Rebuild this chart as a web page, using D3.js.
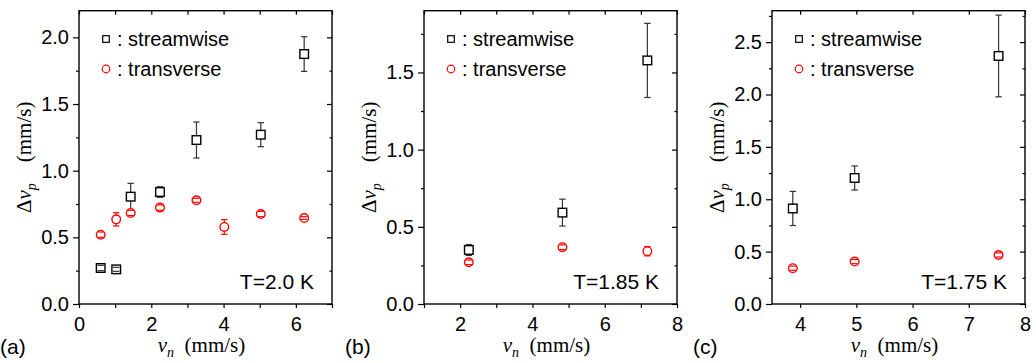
<!DOCTYPE html>
<html>
<head>
<meta charset="utf-8">
<script src="https://cdn.jsdelivr.net/npm/d3@7"></script>
<style>
  body { margin: 0; background: #fff; }
  svg { display: block; }
  .tick text { font-family: "Liberation Sans", Arial, sans-serif; font-size: 20px; fill: #000; }
</style>
</head>
<body>
<script>
// panel (a) T=2.0 K
let aStreamX = [0.6, 1.03, 1.43, 2.24, 3.25, 5.03, 6.23]
let aStreamY = [0.27, 0.26, 0.805, 0.84, 1.23, 1.27, 1.875]
let aStreamErr = [0.02, 0.015, 0.1, 0.04, 0.135, 0.09, 0.13]
let aTransX = [0.6, 1.03, 1.43, 2.24, 3.25, 4.02, 5.03, 6.23]
let aTransY = [0.52, 0.635, 0.683, 0.723, 0.778, 0.578, 0.675, 0.645]
let aTransErr = [0.02, 0.05, 0.02, 0.02, 0.015, 0.055, 0.02, 0.01]

// panel (b) T=1.85 K
let bStreamX = [2.24, 4.83, 7.18]
let bStreamY = [0.35, 0.592, 1.578]
let bStreamErr = [0.035, 0.087, 0.24]
let bTransX = [2.24, 4.83, 7.18]
let bTransY = [0.27, 0.368, 0.342]
let bTransErr = [0.015, 0.015, 0.03]

// panel (c) T=1.75 K
let cStreamX = [3.87, 4.97, 7.53]
let cStreamY = [0.912, 1.203, 2.368]
let cStreamErr = [0.163, 0.115, 0.39]
let cTransX = [3.87, 4.97, 7.53]
let cTransY = [0.342, 0.405, 0.468]
let cTransErr = [0.02, 0.02, 0.02]

let aXTicks = [0, 1, 2, 3, 4, 5, 6, 7]
let aXLabels = [0, 2, 4, 6]
let bXTicks = [1, 2, 3, 4, 5, 6, 7, 8]
let bXLabels = [2, 4, 6, 8]
let cXTicks = [4, 5, 6, 7, 8]
let cXLabels = [4, 5, 6, 7, 8]
let aYLabels = [0, 0.5, 1.0, 1.5, 2.0]
let bYLabels = [0, 0.5, 1.0, 1.5]
let cYLabels = [0, 0.5, 1.0, 1.5, 2.0, 2.5]

let width = 1036
let height = 363

let svg = d3.select('body').append('svg')
  .attr('width', width)
  .attr('height', height)

let panels = [
  { tag: '(a)', temp: 'T=2.0 K', left: 79, xDom: [0, 7], yDom: [0, 2.2],
    xTicks: aXTicks, xLabels: aXLabels, yLabels: aYLabels,
    sx: aStreamX, sy: aStreamY, se: aStreamErr, tx: aTransX, ty: aTransY, te: aTransErr },
  { tag: '(b)', temp: 'T=1.85 K', left: 424, xDom: [1, 8], yDom: [0, 1.9],
    xTicks: bXTicks, xLabels: bXLabels, yLabels: bYLabels,
    sx: bStreamX, sy: bStreamY, se: bStreamErr, tx: bTransX, ty: bTransY, te: bTransErr },
  { tag: '(c)', temp: 'T=1.75 K', left: 772, xDom: [3.5, 8], yDom: [0, 2.8],
    xTicks: cXTicks, xLabels: cXLabels, yLabels: cYLabels,
    sx: cStreamX, sy: cStreamY, se: cStreamErr, tx: cTransX, ty: cTransY, te: cTransErr }
]

let plotTop = 10.7, plotBottom = 304, pw = 253
let red = '#ff0000'
let sans = '"Liberation Sans", Arial, sans-serif'
let serif = '"Liberation Serif", "Times New Roman", serif'

panels.forEach(function(p) {
  let x = d3.scaleLinear().domain(p.xDom).range([p.left, p.left + pw])
  let y = d3.scaleLinear().domain(p.yDom).range([plotBottom, plotTop])

  let yMinor = d3.range(0, p.yDom[1] + 1e-9, 0.25).filter(v => Math.abs(v * 2 - Math.round(v * 2)) > 1e-6)
  let fmt = d3.format('.1f')

  let g = svg.append('g')

  // axes
  let xb = g.append('g').attr('transform', 'translate(0,' + plotBottom + ')')
    .call(d3.axisBottom(x).tickValues(p.xTicks).tickSize(4).tickPadding(9)
      .tickFormat(d => p.xLabels.indexOf(d) >= 0 ? d : ''))
  let xt = g.append('g').attr('transform', 'translate(0,' + plotTop + ')')
    .call(d3.axisTop(x).tickValues(p.xTicks).tickSize(-4).tickFormat(''))
  let yl = g.append('g').attr('transform', 'translate(' + p.left + ',0)')
    .call(d3.axisLeft(y).tickValues(p.yLabels).tickSize(6).tickPadding(4).tickFormat(fmt))
  let ylm = g.append('g').attr('transform', 'translate(' + p.left + ',0)')
    .call(d3.axisLeft(y).tickValues(yMinor).tickSize(3).tickFormat(''))
  let yr = g.append('g').attr('transform', 'translate(' + (p.left + pw) + ',0)')
    .call(d3.axisRight(y).tickValues(p.yLabels).tickSize(-5).tickFormat(''))
  let yrm = g.append('g').attr('transform', 'translate(' + (p.left + pw) + ',0)')
    .call(d3.axisRight(y).tickValues(yMinor).tickSize(-2.5).tickFormat(''))

  ;[xb, xt, yl, ylm, yr, yrm].forEach(function(a) {
    a.select('.domain').remove()
    a.selectAll('.tick line').attr('stroke', '#000').attr('stroke-width', 1.2)
  })

  g.append('rect')
    .attr('x', p.left).attr('y', plotTop)
    .attr('width', pw).attr('height', plotBottom - plotTop)
    .attr('fill', 'none').attr('stroke', '#000').attr('stroke-width', 1.4)

  // error bars + markers
  function series(xs, ys, es, color, barColor, shape) {
    let half = 4.3
    let d = xs.map((v, i) => ({ x: x(v), y: y(ys[i]), y1: y(ys[i] + es[i]), y0: y(ys[i] - es[i]) }))
    let s = g.append('g')
    d.forEach(function(o) {
      if (o.y - o.y1 > half) {
        s.append('line').attr('x1', o.x).attr('x2', o.x).attr('y1', o.y1).attr('y2', o.y - half)
          .attr('stroke', barColor).attr('stroke-width', 1.2)
        s.append('line').attr('x1', o.x).attr('x2', o.x).attr('y1', o.y + half).attr('y2', o.y0)
          .attr('stroke', barColor).attr('stroke-width', 1.2)
      }
    })
    d.forEach(function(o) {
      if (shape === 'square') {
        s.append('rect').attr('x', o.x - half).attr('y', o.y - half)
          .attr('width', half * 2).attr('height', half * 2)
          .attr('fill', '#fff').attr('stroke', color).attr('stroke-width', 1.4)
      } else {
        s.append('circle').attr('cx', o.x).attr('cy', o.y).attr('r', half)
          .attr('fill', '#fff').attr('stroke', color).attr('stroke-width', 1.4)
      }
    })
    d.forEach(function(o) {
      ;[o.y1, o.y0].forEach(function(cy) {
        s.append('line').attr('x1', o.x - 3.2).attr('x2', o.x + 3.2).attr('y1', cy).attr('y2', cy)
          .attr('stroke', barColor).attr('stroke-width', 1.2)
      })
    })
  }
  series(p.sx, p.sy, p.se, '#000', '#333', 'square')
  series(p.tx, p.ty, p.te, red, red, 'circle')

  // legend
  let lx = p.left + 27
  g.append('rect').attr('x', lx - 3.3).attr('y', 39 - 3.3).attr('width', 6.6).attr('height', 6.6)
    .attr('fill', 'none').attr('stroke', '#000').attr('stroke-width', 1.2)
  g.append('circle').attr('cx', lx).attr('cy', 69).attr('r', 3.8)
    .attr('fill', 'none').attr('stroke', red).attr('stroke-width', 1.2)
  g.append('text').attr('x', lx + 11).attr('y', 46)
    .style('font-family', sans).style('font-size', '20px').text(': streamwise')
  g.append('text').attr('x', lx + 11).attr('y', 76)
    .style('font-family', sans).style('font-size', '20px').text(': transverse')

  // temperature
  g.append('text').attr('x', p.left + pw - 18).attr('y', 289).attr('text-anchor', 'end')
    .style('font-family', sans).style('font-size', '21px').text(p.temp)

  // panel tag
  g.append('text').attr('x', p.left - 79).attr('y', 354)
    .style('font-family', sans).style('font-size', '21px').text(p.tag)

  // x title
  let xtTxt = g.append('text').attr('x', p.left + pw / 2 - 4).attr('y', 352).attr('text-anchor', 'middle')
    .style('font-family', serif).style('font-size', '21px')
  xtTxt.append('tspan').style('font-style', 'italic').text('v')
  xtTxt.append('tspan').style('font-style', 'italic').style('font-size', '14px').attr('dy', 5).text('n')
  xtTxt.append('tspan').attr('dy', -5).text('\u2002(mm/s)')

  // y title
  let ytTxt = g.append('text')
    .attr('transform', 'translate(' + (p.left - 48) + ',' + ((plotTop + plotBottom) / 2) + ') rotate(-90)')
    .attr('text-anchor', 'middle')
    .style('font-family', serif).style('font-size', '21px')
  ytTxt.append('tspan').text('\u0394')
  ytTxt.append('tspan').style('font-style', 'italic').text('v')
  ytTxt.append('tspan').style('font-style', 'italic').style('font-size', '14px').attr('dy', 5).text('p')
  ytTxt.append('tspan').attr('dy', -5).text('\u2003(mm/s)')
})
</script>
</body>
</html>
